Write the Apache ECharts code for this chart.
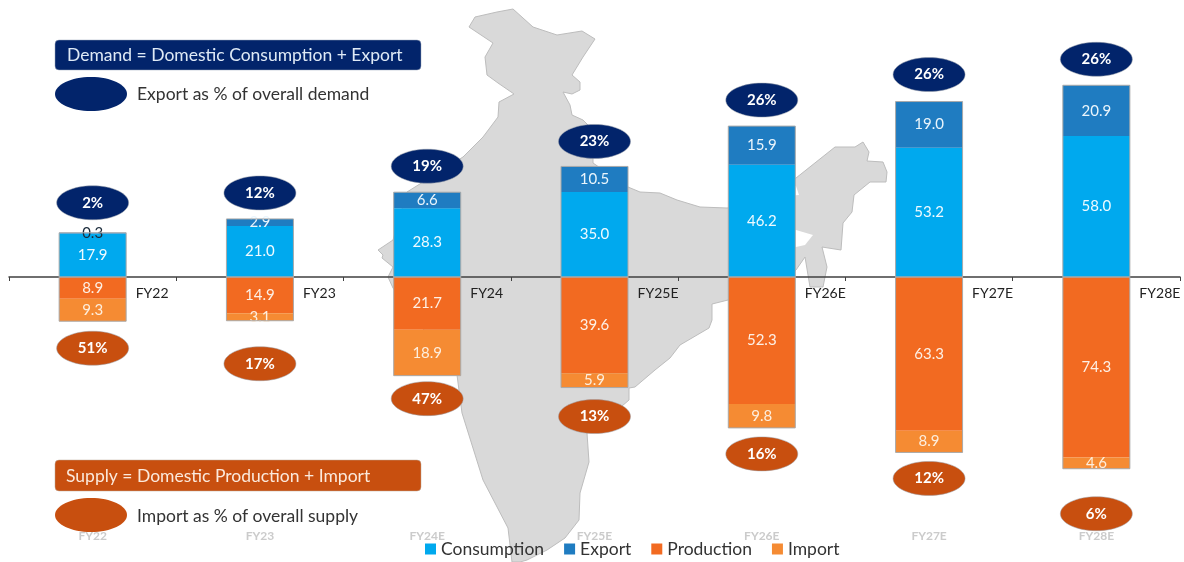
<!DOCTYPE html>
<html><head><meta charset="utf-8">
<style>html,body{margin:0;padding:0;background:#fff}#c{width:1184px;height:562px}</style>
<script src="https://cdn.jsdelivr.net/npm/echarts@6/dist/echarts.min.js"></script>
</head><body><div id="c"></div>
<script>
var categories = ['FY22','FY23','FY24','FY25E','FY26E','FY27E','FY28E'];
var footCategories = ['FY22','FY23','FY24E','FY25E','FY26E','FY27E','FY28E'];
var consumption = [17.9,21.0,28.3,35.0,46.2,53.2,58.0];
var exportVals = [0.3,2.9,6.6,10.5,15.9,19.0,20.9];
var production = [8.9,14.9,21.7,39.6,52.3,63.3,74.3];
var importVals = [9.3,3.1,18.9,5.9,9.8,8.9,4.6];
var exportShare = [2,12,19,23,26,26,26];
var importShare = [51,17,47,13,16,12,6];

/* layout only */
var demandBadgeGap = [30,26,26,25,26,27,26];
var supplyBadgeGap = [27,43,23,29,26,26,45];
var barW = 67, rx = 36, ry = 17;
var FONT = 'Lato, "Open Sans", sans-serif';
var NAVY = '#02246b', RUST = '#c84f0f';
var mapOutline = [[469,27],[475,17],[497,12],[513,9],[533,27],[557,35],[582,31],[595,39],[583,57],[572,75],[580,82],[580,90],[572,94],[563,92],[570,105],[572,115],[583,120],[593,130],[593,163],[628,187],[640,192],[660,193],[677,200],[700,207],[727,208],[770,205],[796,178],[835,147],[855,147],[863,142],[869,152],[867,161],[883,162],[887,172],[886,182],[870,182],[854,195],[852,212],[843,223],[841,250],[822,247],[827,267],[823,287],[810,287],[805,257],[796,270],[770,290],[728,300],[712,304],[712,320],[709,328],[680,345],[670,358],[655,370],[635,387],[629,388],[629,400],[600,425],[587,433],[589,462],[580,493],[579,520],[565,538],[547,550],[527,560],[520,562],[512,562],[508,528],[483,480],[462,413],[457,375],[393,288],[388,277],[393,267],[382,258],[383,255],[378,250],[393,240],[407,192],[463,157],[483,137],[498,117],[499,102],[514,94],[498,83],[487,75],[485,57],[493,43]];
var mapHoles = [[[770,228],[796,230],[813,235],[805,245],[796,247],[770,250]],[[785,186],[796,186],[799,195],[785,196]]];

function neg(a){return a.map(function(v){return -v;});}
function barSeries(name,data,color,labelColor){
  return {name:name,type:'bar',stack:'total',barWidth:barW,data:data,
    itemStyle:{color:color},
    label:{show:true,position:'inside',color:labelColor,fontFamily:FONT,fontSize:15,
      formatter:function(p){return Math.abs(p.value).toFixed(1);}}};
}
function renderBadges(params,api){
  var i = api.value(0);
  var demand = consumption[i]+exportVals[i];
  var supply = production[i]+importVals[i];
  var cx = api.coord([i,0])[0], y0 = api.coord([i,0])[1];
  var yT = api.coord([i,demand])[1], yB = api.coord([i,-supply])[1];
  var outline = {stroke:'#a9a9a9',lineWidth:1,fill:'none'};
  function badge(cy,fill,txt){
    return [{type:'ellipse',shape:{cx:cx,cy:cy,rx:rx,ry:ry},style:{fill:fill,stroke:'#9aa0aa',lineWidth:0.5}},
      {type:'text',x:cx,y:cy,style:{text:txt+'%',fill:'#fff',font:'bold 15px '+FONT,align:'center',verticalAlign:'middle'}}];
  }
  return {type:'group',children:[
    {type:'rect',shape:{x:cx-barW/2,y:yT,width:barW,height:y0-yT},style:outline},
    {type:'rect',shape:{x:cx-barW/2,y:y0,width:barW,height:yB-y0},style:outline}
  ].concat(badge(yT-demandBadgeGap[i],NAVY,exportShare[i]),badge(yB+supplyBadgeGap[i],RUST,importShare[i]))};
}
function boxText(x,y,t,fill){
  return {type:'text',x:x,y:y,z:5,style:{text:t,fill:fill,font:'17.5px '+FONT,verticalAlign:'middle'}};
}
var graphics = [{type:'polygon',z:-10,silent:true,shape:{points:mapOutline},style:{fill:'#d9d9d9',stroke:'#bdbdbd',lineWidth:1}}];
mapHoles.forEach(function(h){graphics.push({type:'polygon',z:-9,silent:true,shape:{points:h},style:{fill:'#fff'}});});
graphics.push(
  {type:'rect',z:4,shape:{x:55,y:40,width:366,height:30,r:4},style:{fill:NAVY,stroke:'#9aa5bb',lineWidth:0.5}},
  boxText(67,55,'Demand = Domestic Consumption + Export','#dfeaf6'),
  {type:'ellipse',z:4,shape:{cx:91,cy:94,rx:36,ry:17},style:{fill:NAVY}},
  boxText(137,94,'Export as % of overall demand','#333333'),
  {type:'rect',z:4,shape:{x:55,y:460,width:366,height:31,r:4},style:{fill:RUST,stroke:'#b9a89a',lineWidth:0.5}},
  boxText(66,476,'Supply = Domestic Production + Import','#fbe9dc'),
  {type:'ellipse',z:4,shape:{cx:91,cy:515,rx:36,ry:17},style:{fill:RUST}},
  boxText(137,516,'Import as % of overall supply','#333333')
);
var chart = echarts.init(document.getElementById('c'),null,{renderer:'canvas'});
chart.setOption({
  animation:false,backgroundColor:'#fff',
  textStyle:{fontFamily:FONT},
  grid:{left:9,top:34,width:1171,height:486,outerBoundsMode:'none'},
  legend:{left:420,top:535,itemWidth:11,itemHeight:11,itemGap:20,icon:'rect',
    data:['Consumption','Export','Production','Import'],
    textStyle:{fontFamily:FONT,fontSize:17.5,color:'#333'}},
  xAxis:[
    {type:'category',data:categories,position:'bottom',
     axisLine:{onZero:true,lineStyle:{color:'#404040',width:1.5}},
     axisTick:{show:true,length:4,lineStyle:{color:'#404040'}},
     axisLabel:{align:'left',padding:[0,0,0,43],margin:-234,fontFamily:FONT,fontSize:14,color:'#222',interval:0}},
    {type:'category',data:footCategories,position:'bottom',
     axisLine:{show:false,onZero:false},axisTick:{show:false},
     axisLabel:{margin:10,fontFamily:FONT,fontSize:12,fontWeight:'bold',color:'#cbcbcb',interval:0}}
  ],
  yAxis:{type:'value',min:-100,max:100,show:false},
  series:[
    barSeries('Consumption',consumption,'#00a9ee','#eefaff'),
    barSeries('Export',exportVals.map(function(v,i){return i===0?{value:v,label:{color:'#1a2a3a'}}:v;}),'#1f7cc1','#eaf5fc'),
    barSeries('Production',neg(production),'#f26a21','#fdf0e6'),
    barSeries('Import',neg(importVals),'#f58b33','#fdeedd'),
    {type:'custom',name:'Shares',z:5,renderItem:renderBadges,silent:true,
     data:categories.map(function(c,i){return [i];}),encode:{x:0,y:-1},xAxisIndex:0,yAxisIndex:0}
  ],
  graphic:{elements:graphics}
});
</script></body></html>
